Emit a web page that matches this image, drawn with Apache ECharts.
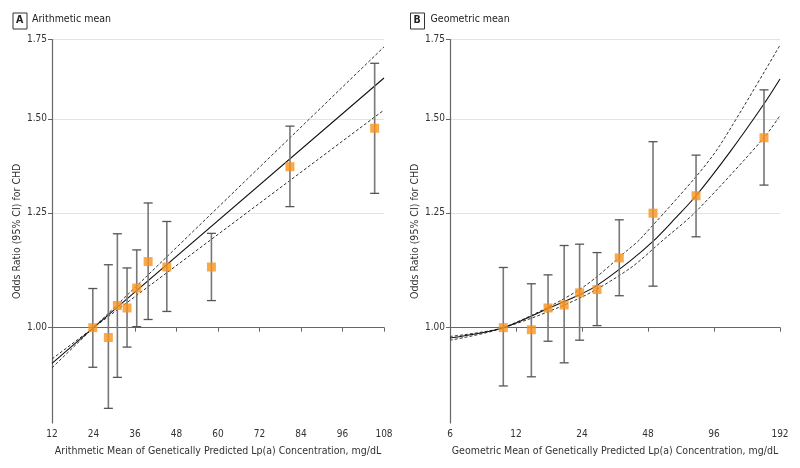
<!DOCTYPE html>
<html><head><meta charset="utf-8">
<script src="https://cdn.jsdelivr.net/npm/echarts@6/dist/echarts.min.js"></script>
<style>html,body{margin:0;padding:0;background:#fff}#c{width:800px;height:468px}</style>
</head><body><div id="c"></div>
<script>
// ---------- data ----------
const yTicks = [1.00, 1.25, 1.50, 1.75];
const yMin = 0.831, yMax = 1.75;
const xTicksA = [12, 24, 36, 48, 60, 72, 84, 96, 108];
const xTicksB = [6, 12, 24, 48, 96, 192];

// Panel A: arithmetic mean
const xA  = [23.8, 28.3, 30.9, 33.7, 36.5, 39.8, 45.2, 58.1, 80.8, 105.3];
const orA = [1.000, 0.981, 1.044, 1.039, 1.080, 1.137, 1.125, 1.125, 1.367, 1.473];
const loA = [0.926, 0.855, 0.908, 0.963, 1.002, 1.016, 1.032, 1.054, 1.265, 1.298];
const hiA = [1.079, 1.130, 1.200, 1.123, 1.163, 1.274, 1.229, 1.201, 1.479, 1.671];
const fitAx = [12, 24, 108];
const fitA  = [0.933, 1.000, 1.624];
const ciA1  = [0.925, 1.000, 1.725];
const ciA2  = [0.941, 1.000, 1.526];

// Panel B: geometric mean
const xB  = [10.5, 14.1, 16.8, 19.9, 23.4, 28.1, 35.5, 50.6, 79.5, 162.3];
const orB = [1.000, 0.996, 1.039, 1.045, 1.070, 1.077, 1.145, 1.249, 1.292, 1.446];
const loB = [0.893, 0.909, 0.974, 0.934, 0.976, 1.004, 1.064, 1.084, 1.193, 1.319];
const hiB = [1.124, 1.089, 1.108, 1.173, 1.176, 1.157, 1.233, 1.435, 1.398, 1.587];
const fitBx = [6, 10.5, 16.8, 23.4, 28, 39.7, 50.7, 63.5, 79.5, 113.6, 161, 192];
const fitB  = [0.980, 1.000, 1.038, 1.066, 1.085, 1.138, 1.183, 1.235, 1.292, 1.407, 1.541, 1.621];
const ciB1x = [6, 10.5, 23.4, 39.7, 44.1, 79.5, 102.2, 192];
const ciB1  = [0.976, 1.000, 1.077, 1.167, 1.187, 1.341, 1.425, 1.731];
const ciB2x = [6, 10.5, 23.4, 39.7, 56.4, 79.5, 162.3, 192];
const ciB2  = [0.983, 1.000, 1.059, 1.122, 1.186, 1.253, 1.446, 1.510];

// ---------- helpers ----------
const ty = v => Math.log(v);
const txA = v => v;
const txB = v => Math.log2(v);
const FONT = "'Liberation Sans Narrow','DejaVu Sans Condensed','Liberation Sans',sans-serif";
const TXT = '#333';
const AX = '#666';

const pts = (xs, ys, tx) => xs.map((x, i) => [tx(x), ty(ys[i])]);
const bars = (xs, lo, hi, tx) => xs.map((x, i) => [tx(x), ty(lo[i]), ty(hi[i])]);

function errRender(params, api) {
  const x = api.value(0);
  const a = api.coord([x, api.value(1)]);
  const b = api.coord([x, api.value(2)]);
  const w = 4.5;
  const st = {stroke: '#555', lineWidth: 1.3};
  return {type: 'group', children: [
    {type: 'line', shape: {x1: a[0], y1: a[1], x2: b[0], y2: b[1]}, style: {stroke: '#777', lineWidth: 1.6}},
    {type: 'line', shape: {x1: a[0] - w, y1: a[1], x2: a[0] + w, y2: a[1]}, style: st},
    {type: 'line', shape: {x1: b[0] - w, y1: b[1], x2: b[0] + w, y2: b[1]}, style: st}
  ]};
}

function yAxis(idx) {
  const cv = yTicks.map(ty);
  return {
    type: 'value', gridIndex: idx, min: ty(yMin), max: ty(yMax),
    name: 'Odds Ratio (95% CI) for CHD', nameLocation: 'middle', nameGap: 28,
    nameTextStyle: {fontFamily: FONT, fontSize: 10.5, color: TXT},
    axisLine: {show: true, lineStyle: {color: AX, width: 1.2}},
    axisTick: {show: true, length: 4, customValues: cv, lineStyle: {color: AX}},
    axisLabel: {customValues: cv, formatter: v => Math.exp(v).toFixed(2), fontFamily: FONT, fontSize: 10, color: TXT, margin: 5},
    splitLine: {show: true, lineStyle: {color: '#e3e3e3', width: 1}}
  };
}

const lineOptB = {smooth: 0.3, symbol: 'none', z: 3};

const option = {
  animation: false,
  backgroundColor: '#fff',
  grid: [
    {left: 52, right: 416, top: 39.5, bottom: 45},
    {left: 450, right: 20, top: 39.5, bottom: 45}
  ],
  xAxis: [
    {type: 'value', gridIndex: 0, min: xTicksA[0], max: xTicksA[xTicksA.length - 1], interval: 12,
     name: 'Arithmetic Mean of Genetically Predicted Lp(a) Concentration, mg/dL', nameLocation: 'middle', nameGap: 23,
     nameTextStyle: {fontFamily: FONT, fontSize: 10.5, color: TXT},
     axisLine: {lineStyle: {color: AX, width: 1.2}},
     axisTick: {length: 4, lineStyle: {color: AX}},
     axisLabel: {fontFamily: FONT, fontSize: 10, color: TXT, margin: 6},
     splitLine: {show: false}},
    {type: 'value', gridIndex: 1, min: txB(xTicksB[0]), max: txB(xTicksB[xTicksB.length - 1]),
     name: 'Geometric Mean of Genetically Predicted Lp(a) Concentration, mg/dL', nameLocation: 'middle', nameGap: 23,
     nameTextStyle: {fontFamily: FONT, fontSize: 10.5, color: TXT},
     axisLine: {lineStyle: {color: AX, width: 1.2}},
     axisTick: {length: 4, customValues: xTicksB.map(txB), lineStyle: {color: AX}},
     axisLabel: {customValues: xTicksB.map(txB), formatter: v => String(Math.round(Math.pow(2, v))), fontFamily: FONT, fontSize: 10, color: TXT, margin: 6},
     splitLine: {show: false}}
  ],
  yAxis: [yAxis(0), yAxis(1)],
  graphic: [
    {type: 'rect', left: 12.5, top: 12.5, shape: {width: 14, height: 16}, style: {fill: '#fff', stroke: '#333', lineWidth: 1}},
    {type: 'text', left: 16, top: 15, style: {text: 'A', font: "bold 10.5px " + FONT, fill: '#222'}},
    {type: 'text', left: 32, top: 14, style: {text: 'Arithmetic mean', font: "10.5px " + FONT, fill: '#222'}},
    {type: 'rect', left: 410, top: 12.5, shape: {width: 14, height: 16}, style: {fill: '#fff', stroke: '#333', lineWidth: 1}},
    {type: 'text', left: 413.5, top: 15, style: {text: 'B', font: "bold 10.5px " + FONT, fill: '#222'}},
    {type: 'text', left: 430.5, top: 14, style: {text: 'Geometric mean', font: "10.5px " + FONT, fill: '#222'}}
  ],
  series: [
    // Panel A
    {type: 'line', xAxisIndex: 0, yAxisIndex: 0, data: pts(fitAx, ciA1, txA), symbol: 'none', lineStyle: {color: '#333', width: 1, type: [3, 2]}, z: 3},
    {type: 'line', xAxisIndex: 0, yAxisIndex: 0, data: pts(fitAx, ciA2, txA), symbol: 'none', lineStyle: {color: '#333', width: 1, type: [3, 2]}, z: 3},
    {type: 'line', xAxisIndex: 0, yAxisIndex: 0, data: pts(fitAx, fitA, txA), symbol: 'none', lineStyle: {color: '#111', width: 1.1}, z: 3},
    {type: 'custom', xAxisIndex: 0, yAxisIndex: 0, renderItem: errRender, data: bars(xA, loA, hiA, txA), z: 4},
    {type: 'scatter', xAxisIndex: 0, yAxisIndex: 0, data: pts(xA, orA, txA), symbol: 'rect', symbolSize: 9, itemStyle: {color: '#F7941D'}, z: 5},
    // Panel B
    Object.assign({type: 'line', xAxisIndex: 1, yAxisIndex: 1, data: pts(ciB1x, ciB1, txB), lineStyle: {color: '#333', width: 1, type: [3, 2]}}, lineOptB),
    Object.assign({type: 'line', xAxisIndex: 1, yAxisIndex: 1, data: pts(ciB2x, ciB2, txB), lineStyle: {color: '#333', width: 1, type: [3, 2]}}, lineOptB),
    Object.assign({type: 'line', xAxisIndex: 1, yAxisIndex: 1, data: pts(fitBx, fitB, txB), lineStyle: {color: '#111', width: 1.1}}, lineOptB),
    {type: 'custom', xAxisIndex: 1, yAxisIndex: 1, renderItem: errRender, data: bars(xB, loB, hiB, txB), z: 4},
    {type: 'scatter', xAxisIndex: 1, yAxisIndex: 1, data: pts(xB, orB, txB), symbol: 'rect', symbolSize: 9, itemStyle: {color: '#F7941D'}, z: 5}
  ]
};
const chart = echarts.init(document.getElementById('c'), null, {renderer: 'canvas'});
chart.setOption(option);
</script></body></html>
